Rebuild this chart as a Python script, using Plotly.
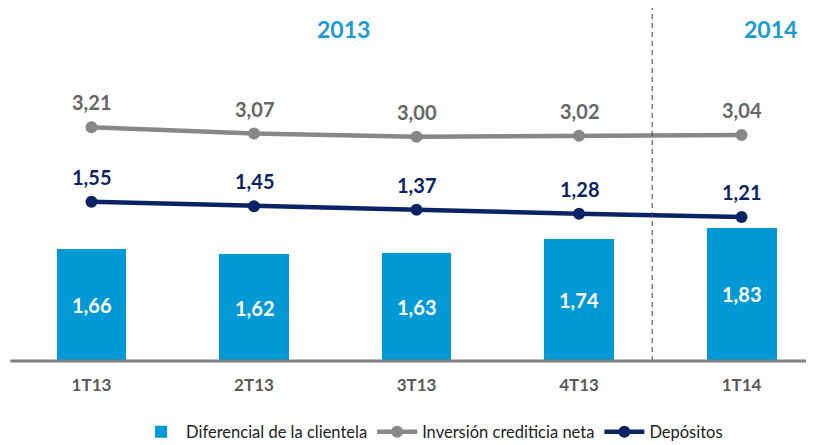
import plotly.graph_objects as go

categories = ["1T13", "2T13", "3T13", "4T13", "1T14"]
diferencial = [1.66, 1.62, 1.63, 1.74, 1.83]
inversion = [3.21, 3.07, 3.00, 3.02, 3.04]
depositos = [1.55, 1.45, 1.37, 1.28, 1.21]
years = ["2013", "2014"]


def fmt(v):
    return f"{v:.2f}".replace(".", ",")


FONT = "Lato, 'Open Sans', sans-serif"
BLUE = "#0099d6"
GREY = "#878787"
NAVY = "#0b2265"
Y_MIN = 0.78  # el eje de las barras no empieza en cero

fig = go.Figure()

fig.add_trace(go.Bar(
    x=categories, y=diferencial, name="Diferencial de la clientela",
    marker=dict(color=BLUE, line=dict(width=0)), width=0.43,
))
fig.add_trace(go.Scatter(
    x=categories, y=inversion, name="Inversión crediticia neta", yaxis="y2",
    mode="lines+markers", line=dict(color=GREY, width=4.5),
    marker=dict(size=12, color=GREY),
))
fig.add_trace(go.Scatter(
    x=categories, y=depositos, name="Depósitos", yaxis="y2",
    mode="lines+markers", line=dict(color=NAVY, width=4.5),
    marker=dict(size=12, color=NAVY),
))

annotations = []
# etiquetas dentro de las barras (centradas en la parte visible)
for c, v in zip(categories, diferencial):
    annotations.append(dict(
        x=c, y=(v + Y_MIN) / 2, xref="x", yref="y", text=fmt(v), showarrow=False,
        font=dict(size=20, color="white", family=FONT, weight="bold"),
    ))
# etiquetas de las líneas
for series, color in ((inversion, "#666666"), (depositos, NAVY)):
    for c, v in zip(categories, series):
        annotations.append(dict(
            x=c, y=v, xref="x", yref="y2", text=fmt(v), showarrow=False,
            yshift=25, font=dict(size=20, color=color, family=FONT, weight="bold"),
        ))
# años arriba
for xpos, label in ((1.55, years[0]), (4.18, years[1])):
    annotations.append(dict(
        x=xpos, y=1 - 21 / 353, xref="x", yref="paper", text=label,
        showarrow=False, yanchor="middle",
        font=dict(size=23, color="#1a9bd7", family=FONT, weight="bold"),
    ))

fig.update_layout(
    width=814, height=445,
    margin=dict(l=0, r=0, t=0, b=92),
    paper_bgcolor="white", plot_bgcolor="white",
    showlegend=True,
    legend=dict(orientation="h", x=0.521, xanchor="center", y=-0.201,
                yanchor="middle", font=dict(size=16.5, family=FONT, color="#222"),
                itemwidth=40, traceorder="normal"),
    xaxis=dict(range=[-0.5138, 4.495], showgrid=False, zeroline=False,
               showline=False, ticks="", ticklabelstandoff=12,
               tickfont=dict(size=17, color="#595959", family=FONT, weight="bold")),
    yaxis=dict(range=[Y_MIN, 3.560], visible=False, showgrid=False),
    yaxis2=dict(range=[-2.006, 5.874], overlaying="y", visible=False,
                showgrid=False),
    annotations=annotations,
    shapes=[
        dict(type="line", xref="x", yref="paper", x0=3.45, x1=3.45, y0=0, y1=1.03,
             line=dict(color="#404040", width=1, dash="5px,4px")),
        dict(type="line", xref="x", yref="paper", x0=-0.5, x1=4.495, y0=0, y1=0,
             line=dict(color="#808080", width=3)),
    ],
    bargap=0,
)

fig.write_html("out.html")
